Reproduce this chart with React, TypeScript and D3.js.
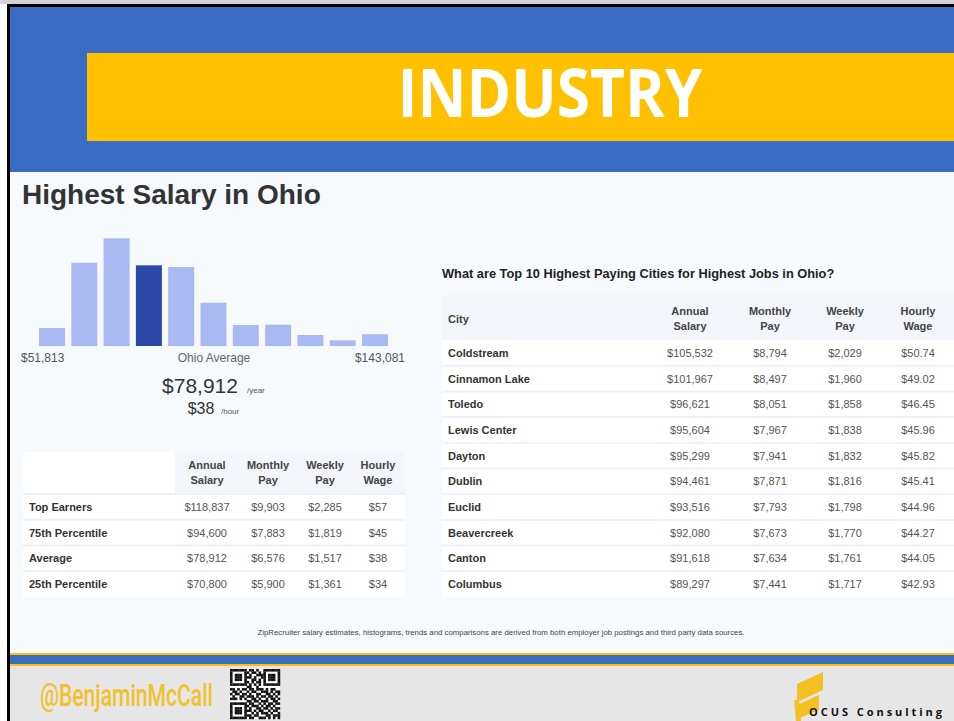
import React from "react";
import * as d3 from "d3";

const histBins = [0, 1, 2, 3, 4, 5, 6, 7, 8, 9, 10];
const histValues = [16.7, 77.3, 100, 74.9, 73.4, 40.2, 19.5, 19.8, 10.2, 5.3, 10.9];
const averageBin = 3;
const histMinLabel = "$51,813";
const histMaxLabel = "$143,081";
const avgYear = "$78,912";
const avgHour = "$38";

const pctCols = ["Annual|Salary", "Monthly|Pay", "Weekly|Pay", "Hourly|Wage"];
const pctRows = ["Top Earners", "75th Percentile", "Average", "25th Percentile"];
const pctAnnual = ["$118,837", "$94,600", "$78,912", "$70,800"];
const pctMonthly = ["$9,903", "$7,883", "$6,576", "$5,900"];
const pctWeekly = ["$2,285", "$1,819", "$1,517", "$1,361"];
const pctHourly = ["$57", "$45", "$38", "$34"];

const cities = ["Coldstream", "Cinnamon Lake", "Toledo", "Lewis Center", "Dayton", "Dublin", "Euclid", "Beavercreek", "Canton", "Columbus"];
const cityAnnual = ["$105,532", "$101,967", "$96,621", "$95,604", "$95,299", "$94,461", "$93,516", "$92,080", "$91,618", "$89,297"];
const cityMonthly = ["$8,794", "$8,497", "$8,051", "$7,967", "$7,941", "$7,871", "$7,793", "$7,673", "$7,634", "$7,441"];
const cityWeekly = ["$2,029", "$1,960", "$1,858", "$1,838", "$1,832", "$1,816", "$1,798", "$1,770", "$1,761", "$1,717"];
const cityHourly = ["$50.74", "$49.02", "$46.45", "$45.96", "$45.82", "$45.41", "$44.96", "$44.27", "$44.05", "$42.93"];
const cityCols = ["Annual|Salary", "Monthly|Pay", "Weekly|Pay", "Hourly|Wage"];

const qrRows = [
  "111111101101001111111",
  "100000110110101000001",
  "101110101001111011101",
  "101110111010011011101",
  "101110100110101011101",
  "100000110101101000001",
  "111111101010101111111",
  "000000011001000000000",
  "110101101101110101100",
  "011010010110011101011",
  "101101101001100110101",
  "010011011101011011010",
  "111010100110100101101",
  "000000011011011100110",
  "111111101100101011011",
  "100000110111010110100",
  "101110101001101101011",
  "101110111010110010110",
  "101110100101011101001",
  "100000111011000110111",
  "111111101100111010101",
];

const FONT = "'Liberation Sans', Arial, sans-serif";

export default function App() {
  const W = 954, H = 721;

  const hx = d3.scaleBand<number>().domain(histBins).range([39, 388]).paddingInner(0.195).paddingOuter(0);
  const hy = d3.scaleLinear().domain([0, 100]).range([346, 238.3]);

  const lRowY = d3.scaleBand<number>().domain(d3.range(pctRows.length)).range([494, 597]);
  const lCols = [pctAnnual, pctMonthly, pctWeekly, pctHourly];
  const lColXs = [207, 268, 325, 378];

  const rRowY = d3.scaleBand<number>().domain(d3.range(cities.length)).range([340, 597]);
  const rColXs = [690, 770, 845, 918];
  const rCols = [cityAnnual, cityMonthly, cityWeekly, cityHourly];

  const qrScale = d3.scaleLinear().domain([0, 21]).range([0, 50]);

  return (
    <svg width={W} height={H} style={{ position: "absolute", left: 0, top: 0 }} fontFamily={FONT}>
      <rect x={0} y={0} width={W} height={H} fill="#ffffff" />
      {/* header */}
      <rect x={10} y={7} width={W - 10} height={165} fill="#3a6cc3" />
      <rect x={87} y={53} width={W - 87} height={88} fill="#ffc000" />
      <text x={550} y={117} textAnchor="middle" fill="#ffffff" fontFamily="'Open Sans', sans-serif" fontWeight={700}
        fontSize={66} textLength={305} lengthAdjust="spacingAndGlyphs">INDUSTRY</text>

      {/* content */}
      <rect x={10} y={172} width={W - 10} height={481} fill="#f7fafd" />
      <text x={22} y={204} fill="#333333" fontWeight={700} fontSize={28}>Highest Salary in Ohio</text>

      {/* histogram */}
      {histValues.map((v, i) => (
        <rect key={i} x={hx(i)} y={hy(v)} width={hx.bandwidth()} height={hy(0) - hy(v)}
          fill={i === averageBin ? "#2a48a6" : "#a9b9f1"} />
      ))}
      <text x={21} y={362} fontSize={12} fill="#555">{histMinLabel}</text>
      <text x={214} y={362} fontSize={12} fill="#666" textAnchor="middle">Ohio Average</text>
      <text x={405} y={362} fontSize={12} fill="#555" textAnchor="end">{histMaxLabel}</text>
      <text x={200} y={393} fontSize={21} fill="#333" textAnchor="middle">{avgYear}</text>
      <text x={247} y={393} fontSize={8} fill="#555">/year</text>
      <text x={201} y={414} fontSize={16} fill="#333" textAnchor="middle">{avgHour}</text>
      <text x={221} y={414} fontSize={8} fill="#555">/hour</text>

      {/* left table */}
      <rect x={23} y={452} width={382} height={145} fill="#ffffff" />
      <rect x={175} y={452} width={230} height={42} fill="#f2f5f9" />
      {pctCols.map((c, j) => (
        <text key={j} x={lColXs[j]} textAnchor="middle" fontSize={11} fontWeight={700} fill="#444">
          <tspan x={lColXs[j]} y={469}>{c.split("|")[0]}</tspan>
          <tspan x={lColXs[j]} y={484}>{c.split("|")[1]}</tspan>
        </text>
      ))}
      {pctRows.map((r, i) => {
        const y0 = lRowY(i)!;
        const cy = y0 + lRowY.bandwidth() / 2 + 4;
        return (
          <g key={r}>
            <line x1={23} x2={405} y1={y0} y2={y0} stroke="#eef1f5" strokeWidth={2} />
            <text x={29} y={cy} fontSize={11} fontWeight={700} fill="#333">{r}</text>
            {lCols.map((col, j) => (
              <text key={j} x={lColXs[j]} y={cy} fontSize={11} fill="#555" textAnchor="middle">{col[i]}</text>
            ))}
          </g>
        );
      })}

      {/* right table */}
      <text x={442} y={278} fontSize={12.8} fontWeight={700} fill="#222">What are Top 10 Highest Paying Cities for Highest Jobs in Ohio?</text>
      <rect x={442} y={340} width={W - 442} height={257} fill="#ffffff" />
      <rect x={442} y={295} width={W - 442} height={45} fill="#f2f5f9" />
      <text x={448} y={323} fontSize={11} fontWeight={700} fill="#444">City</text>
      {cityCols.map((c, j) => (
        <text key={j} textAnchor="middle" fontSize={11} fontWeight={700} fill="#444">
          <tspan x={rColXs[j]} y={315}>{c.split("|")[0]}</tspan>
          <tspan x={rColXs[j]} y={330}>{c.split("|")[1]}</tspan>
        </text>
      ))}
      {cities.map((c, i) => {
        const y0 = rRowY(i)!;
        const cy = y0 + rRowY.bandwidth() / 2 + 4;
        return (
          <g key={c}>
            {i > 0 && <line x1={442} x2={W} y1={y0} y2={y0} stroke="#eef1f5" strokeWidth={2} />}
            <text x={448} y={cy} fontSize={11} fontWeight={700} fill="#333">{c}</text>
            {rCols.map((col, j) => (
              <text key={j} x={rColXs[j]} y={cy} fontSize={11} fill="#555" textAnchor="middle">{col[i]}</text>
            ))}
          </g>
        );
      })}

      <text x={501} y={635} fontSize={8} fill="#444" textAnchor="middle" textLength={487} lengthAdjust="spacingAndGlyphs">
        ZipRecruiter salary estimates, histograms, trends and comparisons are derived from both employer job postings and third party data sources.
      </text>

      {/* footer */}
      <rect x={10} y={653} width={W - 10} height={68} fill="#e7e6e6" />
      <rect x={10} y={653} width={W - 10} height={2} fill="#ffc000" />
      <rect x={10} y={655} width={W - 10} height={9} fill="#3a6cc3" />
      <rect x={10} y={664} width={W - 10} height={2} fill="#ffc000" />
      <text x={40} y={706} fontFamily="Roboto, sans-serif" fontWeight={500} fontSize={31} fill="#f2c12e"
        textLength={173} lengthAdjust="spacingAndGlyphs">@BenjaminMcCall</text>
      <g transform="translate(230,669)">
        <rect x={0} y={0} width={50} height={50} fill="#ffffff" />
        {qrRows.map((row, r) =>
          row.split("").map((b, c) =>
            b === "1" ? (
              <rect key={`${r}-${c}`} x={qrScale(c)} y={qrScale(r)} width={qrScale(1) + 0.2} height={qrScale(1) + 0.2} fill="#111" />
            ) : null
          )
        )}
      </g>
      <polygon points="797,684 823,672 823,690 797,702" fill="#f5c024" />
      <polygon points="797,705 819,695 819,710 797,719" fill="#f5c024" />
      <polygon points="794,700 799,700 801,721 796,721" fill="#f5c024" />
      <text x={809} y={716} fontFamily="'Open Sans', sans-serif" fontWeight={700} fontSize={11} fill="#111"
        textLength={133} lengthAdjust="spacing">OCUS Consulting</text>

      {/* borders */}
      <rect x={7} y={4} width={W - 7} height={3} fill="#000" />
      <rect x={0} y={0} width={W} height={4} fill="#d4d4d4" />
      <rect x={7} y={4} width={3} height={H - 4} fill="#000" />
    </svg>
  );
}
